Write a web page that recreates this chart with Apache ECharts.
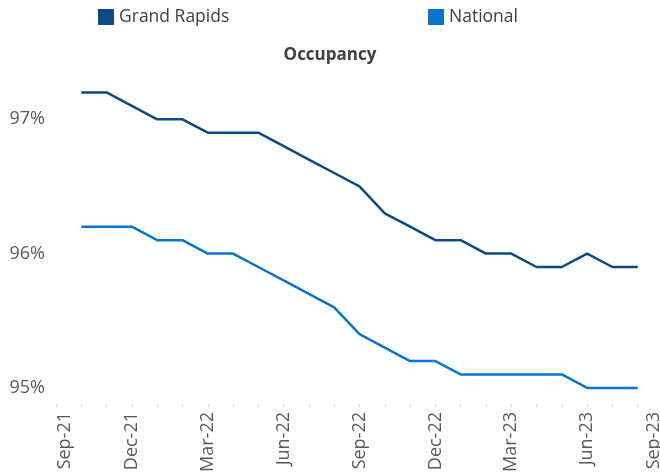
<!DOCTYPE html>
<html>
<head>
<meta charset="utf-8">
<script src="https://cdn.jsdelivr.net/npm/echarts@6/dist/echarts.min.js"></script>
<style>
  html, body { margin: 0; padding: 0; background: #fff; }
  #chart { width: 660px; height: 475px; }
</style>
</head>
<body>
<div id="chart"></div>
<script>
// months on the axis, Sep-21 .. Sep-23 (data runs Oct-21 .. Aug-23)
const months = ['Sep-21', 'Oct-21', 'Nov-21', 'Dec-21', 'Jan-22', 'Feb-22', 'Mar-22', 'Apr-22',
  'May-22', 'Jun-22', 'Jul-22', 'Aug-22', 'Sep-22', 'Oct-22', 'Nov-22', 'Dec-22', 'Jan-23',
  'Feb-23', 'Mar-23', 'Apr-23', 'May-23', 'Jun-23', 'Jul-23', 'Aug-23', 'Sep-23']

const grandRapids = [null, 97.2, 97.2, 97.1, 97.0, 97.0, 96.9, 96.9, 96.9, 96.8, 96.7, 96.6,
  96.5, 96.3, 96.2, 96.1, 96.1, 96.0, 96.0, 95.9, 95.9, 96.0, 95.9, 95.9, null]

const national = [null, 96.2, 96.2, 96.2, 96.1, 96.1, 96.0, 96.0, 95.9, 95.8, 95.7, 95.6,
  95.4, 95.3, 95.2, 95.2, 95.1, 95.1, 95.1, 95.1, 95.1, 95.0, 95.0, 95.0, null]

const font = 'Open Sans'
const labelGrey = '#595959'

// edge labels sit a bit inside the plot, like the original
const axisData = months.map((m, i) => {
  if (i === 0) return { value: m, textStyle: { verticalAlign: 'top' } }
  if (i === months.length - 1) return { value: m, textStyle: { verticalAlign: 'bottom' } }
  return m
})

const chart = echarts.init(document.getElementById('chart'))

chart.setOption({
  animation: false,
  title: {
    text: 'Occupancy',
    left: 'center',
    top: 42,
    textStyle: { fontFamily: font, fontSize: 17, fontWeight: 'bold', color: '#404040' }
  },
  legend: [{
    data: ['Grand Rapids'],
    left: 98,
    top: 8,
    padding: 0,
    icon: 'rect',
    itemWidth: 16,
    itemHeight: 16,
    textStyle: { fontFamily: font, fontSize: 17.5, color: '#404040' }
  }, {
    data: ['National'],
    left: 428,
    top: 8,
    padding: 0,
    icon: 'rect',
    itemWidth: 16,
    itemHeight: 16,
    textStyle: { fontFamily: font, fontSize: 17.5, color: '#404040' }
  }],
  grid: {
    left: 56,
    right: -3,
    top: 79,
    bottom: 71,
    containLabel: false,
    outerBoundsMode: 'none'
  },
  xAxis: {
    type: 'category',
    data: axisData,
    boundaryGap: false,
    axisLine: { show: false },
    axisTick: { show: true, interval: 0, length: 3, lineStyle: { color: '#d9d9d9' } },
    axisLabel: {
      interval: 2,
      rotate: 90,
      margin: 8,
      fontFamily: font,
      fontSize: 18,
      color: labelGrey
    },
    splitLine: { show: false }
  },
  yAxis: {
    type: 'value',
    min: 94.88,
    max: 97.3,
    interval: 0.02,
    axisLine: { show: false },
    axisTick: { show: false },
    splitLine: { show: false },
    axisLabel: {
      margin: 11,
      fontFamily: font,
      fontSize: 18,
      color: labelGrey,
      formatter: function (v) {
        return Math.abs(v - Math.round(v)) < 1e-6 ? Math.round(v) + '%' : ''
      }
    }
  },
  series: [{
    name: 'Grand Rapids',
    type: 'line',
    data: grandRapids,
    symbol: 'none',
    lineStyle: { width: 2.5, color: '#0B4A85' },
    itemStyle: { color: '#0B4A85' }
  }, {
    name: 'National',
    type: 'line',
    data: national,
    symbol: 'none',
    lineStyle: { width: 2.5, color: '#0B74D0' },
    itemStyle: { color: '#0B74D0' }
  }]
})
</script>
</body>
</html>
